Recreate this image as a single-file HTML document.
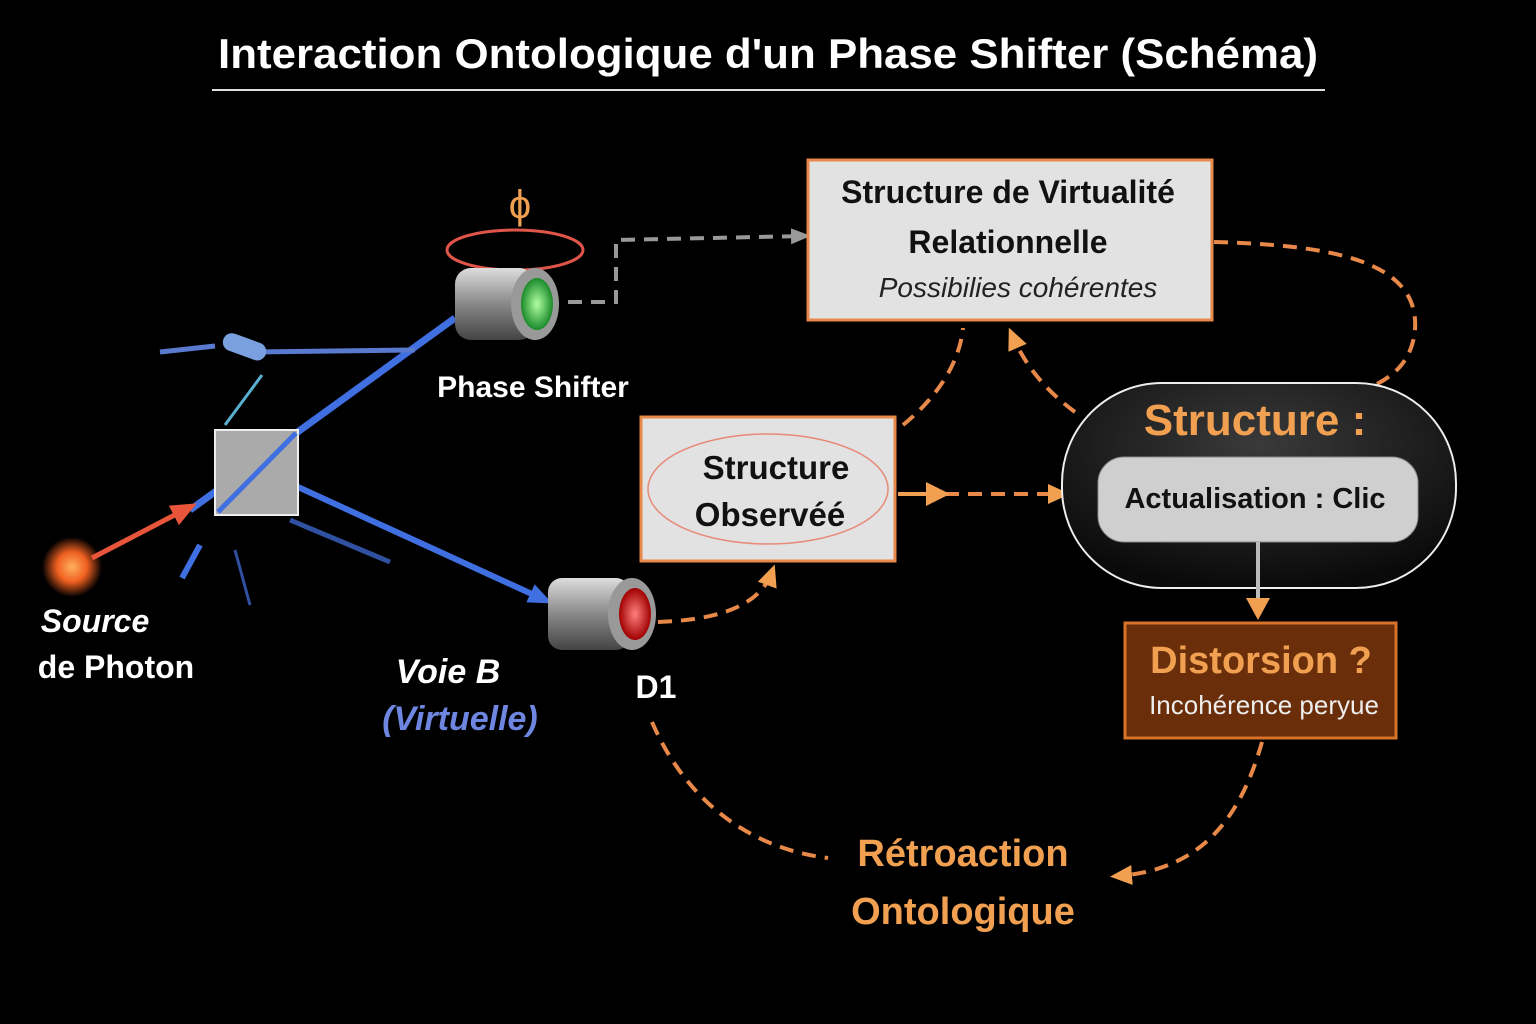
<!DOCTYPE html>
<html><head><meta charset="utf-8"><style>
html,body{margin:0;padding:0;background:#000;}
svg{display:block}
text{font-family:"Liberation Sans","DejaVu Sans",sans-serif;}
</style></head><body>
<svg width="1536" height="1024" viewBox="0 0 1536 1024" xmlns="http://www.w3.org/2000/svg">
<defs>
<marker id="ao" markerWidth="22" markerHeight="22" refX="14" refY="11" orient="auto" markerUnits="userSpaceOnUse" viewBox="0 0 22 22"><path d="M0,1 L22,11 L0,21 z" fill="#f0a050"/></marker>
<marker id="ag" markerWidth="20" markerHeight="20" refX="14" refY="10" orient="auto" markerUnits="userSpaceOnUse" viewBox="0 0 20 20"><path d="M0,2 L20,10 L0,18 z" fill="#999"/></marker>
<marker id="ab" markerWidth="24" markerHeight="24" refX="16" refY="12" orient="auto" markerUnits="userSpaceOnUse" viewBox="0 0 24 24"><path d="M0,2 L24,12 L0,22 z" fill="#3f6fe0"/></marker>
<marker id="ar" markerWidth="26" markerHeight="26" refX="16" refY="13" orient="auto" markerUnits="userSpaceOnUse" viewBox="0 0 26 26"><path d="M0,2 L26,13 L0,24 z" fill="#e8553a"/></marker>
<radialGradient id="src"><stop offset="0" stop-color="#ffb060"/><stop offset="0.5" stop-color="#f06020"/><stop offset="1" stop-color="#f06020" stop-opacity="0"/></radialGradient>
<radialGradient id="pill" cx="0.5" cy="0.3" r="0.7"><stop offset="0" stop-color="#3a3a3a"/><stop offset="1" stop-color="#0a0a0a"/></radialGradient>
<linearGradient id="cyl" x1="0" y1="0" x2="0" y2="1"><stop offset="0" stop-color="#ddd"/><stop offset="0.5" stop-color="#888"/><stop offset="1" stop-color="#444"/></linearGradient>
<radialGradient id="grn"><stop offset="0" stop-color="#b0ffa0"/><stop offset="1" stop-color="#1a8a2a"/></radialGradient>
<radialGradient id="red"><stop offset="0" stop-color="#ff8080"/><stop offset="1" stop-color="#a00000"/></radialGradient>
</defs>

<text x="768" y="68" text-anchor="middle" fill="#fff" font-size="42" font-weight="bold" textLength="1100" lengthAdjust="spacingAndGlyphs">Interaction Ontologique d'un Phase Shifter (Schéma)</text>
<line x1="212" y1="90" x2="1325" y2="90" stroke="#ddd" stroke-width="2"/>

<g fill="none" stroke="#e8894a" stroke-width="4" stroke-dasharray="14,9">
<path d="M1214,242 C1330,245 1420,260 1415,330 C1412,360 1395,375 1375,385"/>
<path d="M903,425 C940,395 960,360 963,328"/>
<path d="M1075,412 C1045,390 1025,365 1012,335" marker-end="url(#ao)"/>
<path d="M945,494 L1062,494" marker-end="url(#ao)"/>
<path d="M658,622 C720,620 760,605 772,572" marker-end="url(#ao)"/>
<path d="M652,722 C690,810 760,850 828,858"/>
<path d="M1262,742 C1240,820 1200,870 1118,876" marker-end="url(#ao)"/>
</g>
<path d="M898,494 L930,494" stroke="#f0a050" stroke-width="4"/>
<path d="M926,482 L950,494 L926,506 z" fill="#f0a050"/>
<path d="M568,302 L616,302 L616,240 L805,236" fill="none" stroke="#999" stroke-width="4" stroke-dasharray="14,9" marker-end="url(#ag)"/>

<rect x="808" y="160" width="404" height="160" fill="#e2e2e2" stroke="#e8894a" stroke-width="3"/>
<text x="1008" y="203" text-anchor="middle" font-size="32" font-weight="bold" fill="#111">Structure de Virtualité</text>
<text x="1008" y="253" text-anchor="middle" font-size="32" font-weight="bold" fill="#111">Relationnelle</text>
<text x="1018" y="297" text-anchor="middle" font-size="28" font-style="italic" fill="#222">Possibilies cohérentes</text>

<rect x="641" y="417" width="254" height="144" fill="#e2e2e2" stroke="#e8894a" stroke-width="3"/>
<ellipse cx="768" cy="489" rx="120" ry="55" fill="none" stroke="#e8897a" stroke-width="1.5"/>
<text x="776" y="479" text-anchor="middle" font-size="33" font-weight="bold" fill="#111">Structure</text>
<text x="770" y="526" text-anchor="middle" font-size="33" font-weight="bold" fill="#111">Observéé</text>

<rect x="1062" y="383" width="394" height="205" rx="100" fill="url(#pill)" stroke="#eee" stroke-width="2"/>
<text x="1255" y="435" text-anchor="middle" font-size="44" font-weight="bold" fill="#f0a050">Structure :</text>
<rect x="1098" y="457" width="320" height="85" rx="26" fill="#cfcfcf" stroke="#888"/>
<text x="1255" y="508" text-anchor="middle" font-size="29" font-weight="bold" fill="#111">Actualisation : Clic</text>
<line x1="1258" y1="542" x2="1258" y2="600" stroke="#bbb" stroke-width="4"/>
<path d="M1246,598 L1270,598 L1258,620 z" fill="#f0a050"/>

<rect x="1125" y="623" width="271" height="115" fill="#6b2e0a" stroke="#d9732a" stroke-width="3"/>
<text x="1261" y="673" text-anchor="middle" font-size="38" font-weight="bold" fill="#f0a050">Distorsion ?</text>
<text x="1264" y="714" text-anchor="middle" font-size="26" fill="#eee">Incohérence peryue</text>

<text x="963" y="866" text-anchor="middle" font-size="38" font-weight="bold" fill="#f0a050">Rétroaction</text>
<text x="963" y="924" text-anchor="middle" font-size="38" font-weight="bold" fill="#f0a050">Ontologique</text>

<line x1="190" y1="510" x2="455" y2="318" stroke="#3f6fe0" stroke-width="7"/>
<line x1="298" y1="487" x2="545" y2="600" stroke="#3f6fe0" stroke-width="6" marker-end="url(#ab)"/>
<path d="M160,352 L215,346 M250,352 L415,350" stroke="#5a7ad0" stroke-width="5"/>
<rect x="222" y="338" width="45" height="18" rx="9" fill="#7aa0e0" transform="rotate(20 245 347)"/>
<line x1="225" y1="425" x2="262" y2="375" stroke="#5ab0d0" stroke-width="3"/>
<line x1="290" y1="520" x2="390" y2="562" stroke="#3050a0" stroke-width="5"/>
<line x1="200" y1="545" x2="182" y2="578" stroke="#3f6fe0" stroke-width="6"/>
<line x1="235" y1="550" x2="250" y2="605" stroke="#3050a0" stroke-width="3"/>
<rect x="215" y="430" width="83" height="85" fill="#aaa" stroke="#eee" stroke-width="2"/>
<line x1="218" y1="512" x2="296" y2="433" stroke="#3f6fe0" stroke-width="5"/>
<circle cx="72" cy="567" r="30" fill="url(#src)"/>
<line x1="92" y1="558" x2="188" y2="508" stroke="#e8553a" stroke-width="5" marker-end="url(#ar)"/>
<text x="95" y="632" text-anchor="middle" font-size="32" font-weight="bold" font-style="italic" fill="#fff">Source</text>
<text x="116" y="678" text-anchor="middle" font-size="32" font-weight="bold" fill="#fff">de Photon</text>

<text x="520" y="218" text-anchor="middle" font-size="40" fill="#f0a050">ϕ</text>
<ellipse cx="515" cy="250" rx="68" ry="20" fill="none" stroke="#e0554a" stroke-width="3"/>
<rect x="455" y="268" width="80" height="72" rx="16" fill="url(#cyl)"/>
<ellipse cx="535" cy="304" rx="24" ry="36" fill="#999"/>
<ellipse cx="537" cy="304" rx="16" ry="26" fill="url(#grn)"/>
<text x="533" y="397" text-anchor="middle" font-size="30" font-weight="bold" fill="#fff">Phase Shifter</text>

<rect x="548" y="578" width="82" height="72" rx="14" fill="url(#cyl)"/>
<ellipse cx="632" cy="614" rx="24" ry="36" fill="#999"/>
<ellipse cx="635" cy="614" rx="16" ry="26" fill="url(#red)"/>
<text x="656" y="698" text-anchor="middle" font-size="32" font-weight="bold" fill="#fff">D1</text>

<text x="448" y="683" text-anchor="middle" font-size="34" font-weight="bold" font-style="italic" fill="#fff">Voie B</text>
<text x="460" y="730" text-anchor="middle" font-size="34" font-weight="bold" font-style="italic" fill="#6f86e0">(Virtuelle)</text>
</svg>
</body></html>
